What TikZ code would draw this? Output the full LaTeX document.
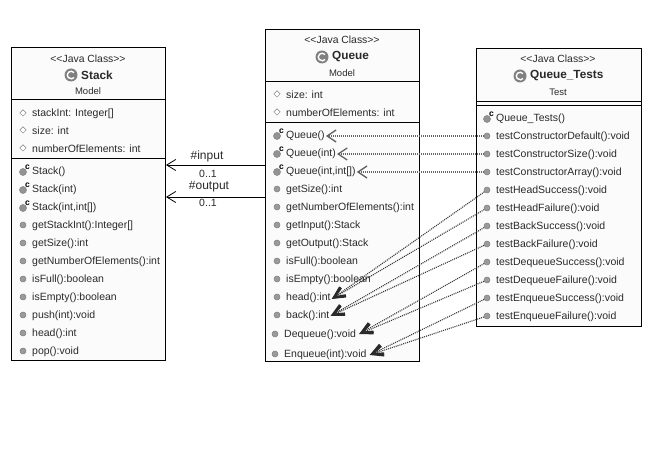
\documentclass[tikz,border=0pt]{standalone}
\usepackage{fontspec}
\setmainfont{Liberation Sans}
\usetikzlibrary{arrows.meta,shapes.geometric}
\definecolor{boxfill}{HTML}{FBFBFB}
\definecolor{dotgray}{HTML}{9A9A9A}
\definecolor{ink}{HTML}{2A2A2A}
\tikzset{
  umlbox/.style={draw=black,line width=1pt,fill=boxfill,inner sep=0pt},
  sepline/.style={draw=black,line width=1pt},
  rowtext/.style={anchor=west,inner sep=0pt,font=\fontsize{10.5}{12}\selectfont,text=ink,yshift=-1pt},
  stereo/.style={inner sep=0pt,font=\fontsize{10.4}{12}\selectfont,text=ink},
  classname/.style={inner sep=0pt,font=\fontsize{11.8}{13}\selectfont\bfseries,text=ink},
  pkgname/.style={inner sep=0pt,font=\fontsize{9.5}{11}\selectfont,text=ink},
  mdot/.style={circle,draw=gray,line width=.5pt,fill=dotgray,inner sep=0pt,minimum size=6pt},
  cdot/.style={circle,draw=gray,line width=.5pt,fill=gray!85,inner sep=0pt,minimum size=7pt},
  adiam/.style={diamond,draw=gray,line width=.5pt,fill=white,inner sep=0pt,minimum size=6.5pt},
  cmark/.style={inner sep=0pt,font=\fontsize{8.5}{9}\selectfont\bfseries},
  assoc/.style={draw=black,line width=.8pt,-{Straight Barb[length=9pt,width=11pt,line width=.8pt]}},
  depthin/.style={draw=black!60,line width=1.1pt,dash pattern=on 1pt off 1pt,
    -{Straight Barb[length=9pt,width=12pt,line width=1.3pt,color=ink!75]}},
  depthick/.style={draw=black!80,line width=1.1pt,dash pattern=on 1pt off 1pt,
    -{Straight Barb[length=11pt,width=10pt,line width=2.2pt,color=ink]}},
  asclabel/.style={inner sep=0pt,font=\fontsize{12}{14}\selectfont,text=ink},
  mult/.style={inner sep=0pt,font=\fontsize{10.5}{12}\selectfont,text=ink},
}
\newcommand{\mrow}[4]{% name, dotx, y, text
  \node[mdot] (#1d) at (#2,#3) {};
  \node[rowtext] (#1) at (#2+9,#3) {#4};}
\newcommand{\crow}[4]{%
  \node[cdot] (#1d) at (#2,#3+1) {};
  \node[cmark] (#1c) at (#2+4.5,#3-4) {c};
  \node[rowtext] (#1) at (#2+9,#3) {#4};}
\newcommand{\arow}[4]{%
  \node[adiam] (#1d) at (#2,#3) {};
  \node[rowtext] (#1) at (#2+9,#3) {#4};}
\newcommand{\ticon}[3]{% name,x,y
  \node[circle,fill=gray,inner sep=0pt,minimum size=13pt] (#1) at (#2,#3) {};
  \draw[white,line width=1.4pt] (#2+3,#3-2.4) arc[start angle=40,end angle=320,radius=3.8pt];}
\begin{document}
\begin{tikzpicture}[x=1pt,y=-1pt]
\useasboundingbox (0,0) rectangle (662,470);
\fill[white] (0,0) rectangle (662,470);
% Stack
\node[umlbox,minimum width=154pt,minimum height=313pt] (stack) at (88.5,204.5) {};
\draw[sepline] (stack.west |- 0,100) -- (stack.east |- 0,100);
\draw[sepline] (stack.west |- 0,159) -- (stack.east |- 0,159);
\node[stereo] (stackst) at (88,59) {<{}<Java Class>{}>};
\ticon{stackic}{71}{75}
\node[classname,anchor=west] (stackn) at (81,75) {Stack};
\node[pkgname] (stackp) at (88,91) {Model};
\arow{sa}{23}{113}{stackInt: Integer[]}
\arow{sb}{23}{130}{size: int}
\arow{sc}{23}{148}{numberOfElements: int}
\crow{sm1}{23}{171}{Stack()}
\crow{sm2}{23}{189}{Stack(int)}
\crow{sm3}{23}{207}{Stack(int,int[])}
\mrow{sm4}{23}{225}{getStackInt():Integer[]}
\mrow{sm5}{23}{243}{getSize():int}
\mrow{sm6}{23}{261}{getNumberOfElements():int}
\mrow{sm7}{23}{279}{isFull():boolean}
\mrow{sm8}{23}{297}{isEmpty():boolean}
\mrow{sm9}{23}{315}{push(int):void}
\mrow{sm10}{23}{333}{head():int}
\mrow{sm11}{23}{351}{pop():void}
% Queue
\node[umlbox,minimum width=154pt,minimum height=332pt] (queue) at (342.5,196) {};
\draw[sepline] (queue.west |- 0,82) -- (queue.east |- 0,82);
\draw[sepline] (queue.west |- 0,123) -- (queue.east |- 0,123);
\node[stereo] (queuest) at (342,40) {<{}<Java Class>{}>};
\ticon{queueic}{322}{57}
\node[classname,anchor=west] (queuen) at (332,57) {Queue};
\node[pkgname] (queuep) at (342,73) {Model};
\arow{qa}{277}{94}{size: int}
\arow{qb}{277}{112}{numberOfElements: int}
\crow{qm1}{277}{135}{Queue()}
\crow{qm2}{277}{153}{Queue(int)}
\crow{qm3}{277}{171}{Queue(int,int[])}
\mrow{qm4}{277}{189}{getSize():int}
\mrow{qm5}{277}{207}{getNumberOfElements():int}
\mrow{qm6}{277}{225}{getInput():Stack}
\mrow{qm7}{277}{243}{getOutput():Stack}
\mrow{qm8}{277}{261}{isFull():boolean}
\mrow{qm9}{277}{279}{isEmpty():boolean}
\mrow{qm10}{277}{297}{head():int}
\mrow{qm11}{277}{315}{back():int}
\mrow{qm12}{275}{334}{Dequeue():void}
\mrow{qm13}{275}{354}{Enqueue(int):void}
% Tests
\node[umlbox,minimum width=165pt,minimum height=278pt] (tests) at (559,188) {};
\draw[sepline] (tests.west |- 0,101.5) -- (tests.east |- 0,101.5);
\draw[sepline] (tests.west |- 0,106) -- (tests.east |- 0,106);
\node[stereo] (testsst) at (558,59) {<{}<Java Class>{}>};
\ticon{testsic}{520}{76}
\node[classname,anchor=west] (testsn) at (530,76) {Queue\_Tests};
\node[pkgname] (testsp) at (558,92) {Test};
\crow{t0}{487}{118}{Queue\_Tests()}
\mrow{t1}{487}{136}{testConstructorDefault():void}
\mrow{t2}{487}{154}{testConstructorSize():void}
\mrow{t3}{487}{172}{testConstructorArray():void}
\mrow{t4}{487}{190}{testHeadSuccess():void}
\mrow{t5}{487}{208}{testHeadFailure():void}
\mrow{t6}{487}{226}{testBackSuccess():void}
\mrow{t7}{487}{244}{testBackFailure():void}
\mrow{t8}{487}{262}{testDequeueSuccess():void}
\mrow{t9}{487}{280}{testDequeueFailure():void}
\mrow{t10}{487}{298}{testEnqueueSuccess():void}
\mrow{t11}{487}{316}{testEnqueueFailure():void}
% Associations
\draw[assoc] (queue.west |- 0,165) -- (stack.east |- 0,165);
\draw[assoc] (queue.west |- 0,197) -- (stack.east |- 0,197);
\node[asclabel] (l1) at (207,156) {\#input};
\node[mult] (l2) at (208,174) {0..1};
\node[asclabel] (l3) at (209,187) {\#output};
\node[mult] (l4) at (208,203) {0..1};
% Dependencies
\draw[depthin] (t1d) -- ([xshift=1pt]qm1.east);
\draw[depthin] (t2d) -- ([xshift=1pt]qm2.east);
\draw[depthin] (t3d) -- ([xshift=1pt]qm3.east);
\draw[depthick] (t4d) -- ([xshift=1pt,yshift=-1pt]qm10.east);
\draw[depthick] (t5d) -- ([xshift=1pt,yshift=-1pt]qm10.east);
\draw[depthick] (t6d) -- ([xshift=1pt]qm11.east);
\draw[depthick] (t7d) -- ([xshift=1pt]qm11.east);
\draw[depthick] (t8d) -- ([xshift=3pt,yshift=1pt]qm12.east);
\draw[depthick] (t9d) -- ([xshift=3pt,yshift=1pt]qm12.east);
\draw[depthick] (t10d) -- ([xshift=3pt]qm13.east);
\draw[depthick] (t11d) -- ([xshift=3pt]qm13.east);
\end{tikzpicture}
\end{document}
